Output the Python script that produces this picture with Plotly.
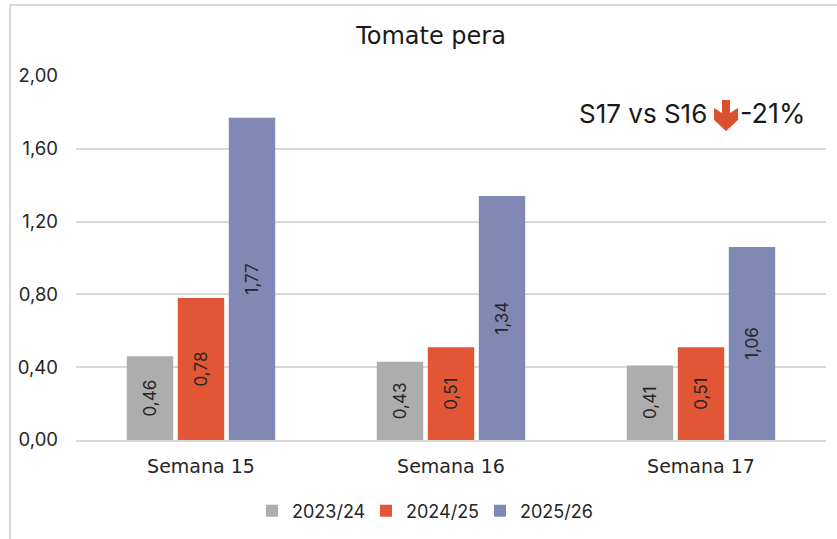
import plotly.graph_objects as go

categories = ["Semana 15", "Semana 16", "Semana 17"]
s_2023_24 = [0.46, 0.43, 0.41]
s_2024_25 = [0.78, 0.51, 0.51]
s_2025_26 = [1.77, 1.34, 1.06]
series_names = ["2023/24", "2024/25", "2025/26"]
colors = ["#ADADAD", "#E35635", "#8288B4"]
tick_vals = [0, 0.4, 0.8, 1.2, 1.6, 2.0]
tick_text = ["0,00", "0,40", "0,80", "1,20", "1,60", "2,00"]

W, H = 837, 539
L, R, T, B = 76, 826, 76, 440
NUM = "Inter, Lato, sans-serif"
WIDE = "'DejaVu Sans', sans-serif"
TEXT = "#262626"

def px(x): return (x - L) / (R - L)
def py(y): return (B - y) / (B - T)

fig = go.Figure()
for name, vals, c in zip(series_names, [s_2023_24, s_2024_25, s_2025_26], colors):
    fig.add_trace(go.Bar(
        name=name, x=categories, y=vals, marker=dict(color=c, line=dict(width=0)),
        text=[f"{v:.2f}".replace(".", ",") for v in vals],
        textposition="inside", insidetextanchor="middle", textangle=-90,
        textfont=dict(family=NUM, size=17, color=TEXT),
        cliponaxis=False, hoverinfo="skip",
    ))

arrow = [(722, 100), (730, 100), (730, 113), (738, 108), (738, 120), (726, 131), (714, 120), (714, 108), (722, 113)]
path = "M " + " L ".join(f"{px(x):.4f},{py(y):.4f}" for x, y in arrow) + " Z"

fig.update_layout(
    width=W, height=H, autosize=False,
    margin=dict(l=L, r=W - R, t=T, b=H - B, pad=0),
    paper_bgcolor="white", plot_bgcolor="white",
    barmode="group", bargap=0.388, bargroupgap=0.09,
    font=dict(family=WIDE, size=18, color=TEXT),
    title=dict(text="Tomate pera", x=431 / W, xanchor="center", y=1 - 36 / H, yanchor="middle",
               font=dict(family=WIDE, size=24, color="#1a1a1a")),
    xaxis=dict(showline=True, linecolor="#D9D9D9", linewidth=1.5, ticks="", ticklen=0, ticklabelstandoff=8,
               tickfont=dict(family=WIDE, size=19, color=TEXT), showgrid=False),
    yaxis=dict(range=[0, 2], tickvals=tick_vals, ticktext=tick_text, ticks="",
               showgrid=True, gridcolor="#D9D9D9", gridwidth=1.5, zeroline=False,
               tickfont=dict(family=NUM, size=18.5, color=TEXT), ticklabelstandoff=17),
    legend=dict(orientation="h", x=252 / W, xanchor="left", xref="container", y=1 - 511 / H, yref="container",
                yanchor="middle", font=dict(family=NUM, size=18, color=TEXT), traceorder="normal",
                itemwidth=30, entrywidth=69, entrywidthmode="pixels"),
    showlegend=True,
    shapes=[
        dict(type="line", xref="paper", yref="paper", x0=px(10), x1=px(10), y0=py(5), y1=py(539),
             line=dict(color="#D9D9D9", width=2)),
        dict(type="line", xref="paper", yref="paper", x0=px(10), x1=px(837), y0=py(5), y1=py(5),
             line=dict(color="#D9D9D9", width=2)),
        dict(type="path", xref="paper", yref="paper", path=path, fillcolor="#D9512C", line=dict(width=0)),
    ],
    annotations=[
        dict(text="S17 vs S16", xref="paper", yref="paper", x=px(709), y=py(114), xanchor="right", yanchor="middle",
             showarrow=False, font=dict(family=NUM, size=26, color="#1a1a1a")),
        dict(text="-21%", xref="paper", yref="paper", x=px(738), y=py(114), xanchor="left", yanchor="middle",
             showarrow=False, font=dict(family=NUM, size=27, color="#1a1a1a")),
    ],
)
fig.write_html("out.html", config={"displayModeBar": False},
               post_script="document.body.style.margin='0';document.body.style.overflow='hidden';")
